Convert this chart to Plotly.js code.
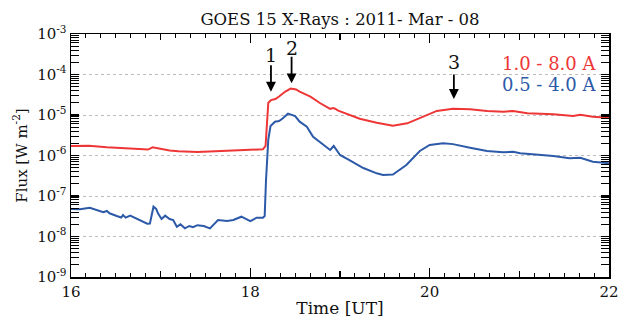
<!DOCTYPE html>
<html>
<head>
<meta charset="utf-8">
<script src="https://cdn.plot.ly/plotly-3.0.1.min.js"></script>
<style>html,body{margin:0;padding:0;background:#fff;}#chart{width:626px;height:318px;}</style>
</head>
<body>
<div id="chart"></div>
<script>
var timeRed = [16.00,16.20,16.40,16.60,16.80,16.86,16.91,17.00,17.10,17.20,17.41,17.61,17.81,18.00,18.14,18.17,18.19,18.20,18.23,18.28,18.32,18.39,18.45,18.51,18.55,18.67,18.78,18.89,18.92,18.94,18.98,19.08,19.22,19.41,19.59,19.75,19.89,20.08,20.26,20.45,20.64,20.82,20.93,21.09,21.38,21.60,21.68,21.82,22.00];
var fluxRed = [1.72e-6,1.74e-6,1.59e-6,1.49e-6,1.42e-6,1.40e-6,1.59e-6,1.45e-6,1.33e-6,1.27e-6,1.22e-6,1.27e-6,1.33e-6,1.41e-6,1.42e-6,1.72e-6,7.5e-6,1.98e-5,2.34e-5,2.48e-5,2.86e-5,3.80e-5,4.51e-5,4.26e-5,3.76e-5,2.83e-5,1.95e-5,1.41e-5,1.49e-5,1.45e-5,1.28e-5,1.04e-5,8.1e-6,6.46e-6,5.44e-6,6.24e-6,8.4e-6,1.26e-5,1.43e-5,1.38e-5,1.26e-5,1.20e-5,1.26e-5,1.10e-5,1.04e-5,9.44e-6,1.02e-5,9.08e-6,8.57e-6];
var timeBlue = [16.00,16.10,16.21,16.29,16.36,16.40,16.43,16.51,16.56,16.58,16.61,16.66,16.74,16.80,16.85,16.88,16.92,16.95,16.97,17.01,17.05,17.10,17.14,17.18,17.22,17.27,17.32,17.36,17.41,17.48,17.55,17.64,17.74,17.81,17.90,18.00,18.07,18.14,18.16,18.175,18.20,18.225,18.275,18.32,18.36,18.42,18.50,18.55,18.63,18.70,18.80,18.89,18.93,19.00,19.11,19.26,19.41,19.48,19.59,19.74,19.89,20.00,20.15,20.26,20.45,20.64,20.82,20.93,21.01,21.19,21.38,21.56,21.68,21.82,22.00];
var fluxBlue = [4.78e-8,4.70e-8,5.14e-8,4.51e-8,3.96e-8,4.26e-8,3.74e-8,3.21e-8,2.94e-8,3.40e-8,2.92e-8,3.27e-8,2.70e-8,2.32e-8,2.07e-8,2.09e-8,5.44e-8,4.78e-8,3.74e-8,2.70e-8,3.27e-8,2.70e-8,2.55e-8,1.74e-8,2.00e-8,1.59e-8,1.82e-8,1.69e-8,1.90e-8,1.82e-8,1.59e-8,2.55e-8,2.41e-8,2.55e-8,3.08e-8,2.41e-8,2.91e-8,2.91e-8,3.21e-8,2.48e-7,2.42e-6,5.35e-6,6.84e-6,7.12e-6,8.2e-6,1.08e-5,9.44e-6,6.84e-6,5.14e-6,2.91e-6,1.92e-6,1.37e-6,1.72e-6,1.03e-6,7.53e-7,4.91e-7,3.63e-7,3.30e-7,3.40e-7,5.82e-7,1.29e-6,1.82e-6,2.00e-6,1.91e-6,1.56e-6,1.29e-6,1.20e-6,1.23e-6,1.13e-6,1.07e-6,9.73e-7,8.53e-7,8.80e-7,7.03e-7,6.41e-7];

var yTickVals = [1e-9,1e-8,1e-7,1e-6,1e-5,1e-4,1e-3];
var yTickText = ['10<sup>-9</sup>','10<sup>-8</sup>','10<sup>-7</sup>','10<sup>-6</sup>','10<sup>-5</sup>','10<sup>-4</sup>','10<sup>-3</sup>'];
var xTickVals = [16,18,20,22];
var xTickText = ['16','18','20','22'];
var hourTicks = [17,19,21];
var seriesNames = ['1.0 - 8.0 A','0.5 - 4.0 A'];
var peakLabels = ['1','2','3'];
var peakTimes = [18.23,18.46,20.27];

var RED = '#ee3636', BLUE = '#2c5aa8';
var FONT = 'DejaVu Serif, serif';

var yMinor = [];
for (var d = -9; d < -3; d++) { for (var k = 2; k <= 9; k++) { yMinor.push(k * Math.pow(10, d)); } }

var traces = [
  {x: timeRed, y: fluxRed, type: 'scatter', mode: 'lines', line: {color: RED, width: 2}, name: seriesNames[0], hoverinfo: 'skip'},
  {x: timeBlue, y: fluxBlue, xaxis: 'x2', type: 'scatter', mode: 'lines', line: {color: BLUE, width: 2}, name: seriesNames[1], hoverinfo: 'skip'}
];

var arrowTipY = [0.7626, 0.797, 0.7325];
var arrowTail = [-28, -28, -26];
var labelY = [0.9136, 0.941, 0.8848];

var annotations = [];
for (var i = 0; i < 3; i++) {
  annotations.push({x: peakTimes[i], xref: 'x', y: arrowTipY[i], yref: 'paper', text: '', showarrow: true,
    arrowhead: 2, arrowsize: 1.1, arrowwidth: 1.8, arrowcolor: '#000', ax: 0, ay: arrowTail[i]});
  annotations.push({x: peakTimes[i], xref: 'x', y: labelY[i], yref: 'paper', text: peakLabels[i], showarrow: false,
    xanchor: 'center', yanchor: 'middle', font: {family: FONT, size: 19, color: '#111'}});
}
annotations.push({x: 0.9796, xref: 'paper', y: 0.879, yref: 'paper', text: seriesNames[0], showarrow: false,
  xanchor: 'right', yanchor: 'middle', font: {family: FONT, size: 18, color: RED}});
annotations.push({x: 0.9796, xref: 'paper', y: 0.791, yref: 'paper', text: seriesNames[1], showarrow: false,
  xanchor: 'right', yanchor: 'middle', font: {family: FONT, size: 18, color: BLUE}});

var layout = {
  width: 626, height: 318,
  margin: {l: 71, r: 17, t: 34, b: 41, pad: 0},
  paper_bgcolor: '#fff', plot_bgcolor: '#fff',
  showlegend: false,
  font: {family: FONT, size: 15, color: '#111'},
  title: {text: 'GOES 15 X-Rays : 2011- Mar - 08', x: 0.5, xref: 'paper', xanchor: 'center',
          y: 1 - 19 / 318, yref: 'container', yanchor: 'middle', font: {family: FONT, size: 16.5, color: '#111'}},
  xaxis: {
    range: [16, 22], tickmode: 'array', tickvals: xTickVals, ticktext: xTickText,
    ticks: 'inside', ticklen: 9, tickwidth: 1.2, tickcolor: '#000',
    showline: true, linecolor: '#000', linewidth: 1.5, mirror: 'allticks',
    showgrid: false, zeroline: false,
    tickfont: {family: FONT, size: 15, color: '#111'},
    minor: {tickmode: 'linear', tick0: 16, dtick: 1 / 6, ticks: 'inside', ticklen: 4, tickwidth: 1, tickcolor: '#000', showgrid: false},
    title: {text: 'Time [UT]', font: {family: FONT, size: 17, color: '#111'}, standoff: 4}
  },
  xaxis2: {
    range: [16, 22], overlaying: 'x', anchor: 'y', side: 'bottom', tickmode: 'array', tickvals: hourTicks,
    ticks: 'inside', ticklen: 6, tickwidth: 1.2, tickcolor: '#000', showticklabels: false,
    showline: false, mirror: 'allticks', showgrid: false, zeroline: false
  },
  yaxis: {
    type: 'log', range: [-9, -3], tickmode: 'array', tickvals: yTickVals, ticktext: yTickText,
    ticks: 'inside', ticklen: 8, tickwidth: 1.2, tickcolor: '#000',
    showline: true, linecolor: '#000', linewidth: 1.5, mirror: 'allticks',
    showgrid: true, gridcolor: '#bcbcbc', griddash: 'dot', gridwidth: 1, zeroline: false,
    tickfont: {family: FONT, size: 15, color: '#111'},
    minor: {tickmode: 'array', tickvals: yMinor, ticks: 'inside', ticklen: 4, tickwidth: 1, tickcolor: '#000', showgrid: false},
    title: {text: 'Flux [W m<sup>-2</sup>]', font: {family: FONT, size: 15, color: '#111'}, standoff: 6}
  },
  annotations: annotations
};

Plotly.newPlot('chart', traces, layout, {displayModeBar: false, staticPlot: true});
</script>
</body>
</html>
